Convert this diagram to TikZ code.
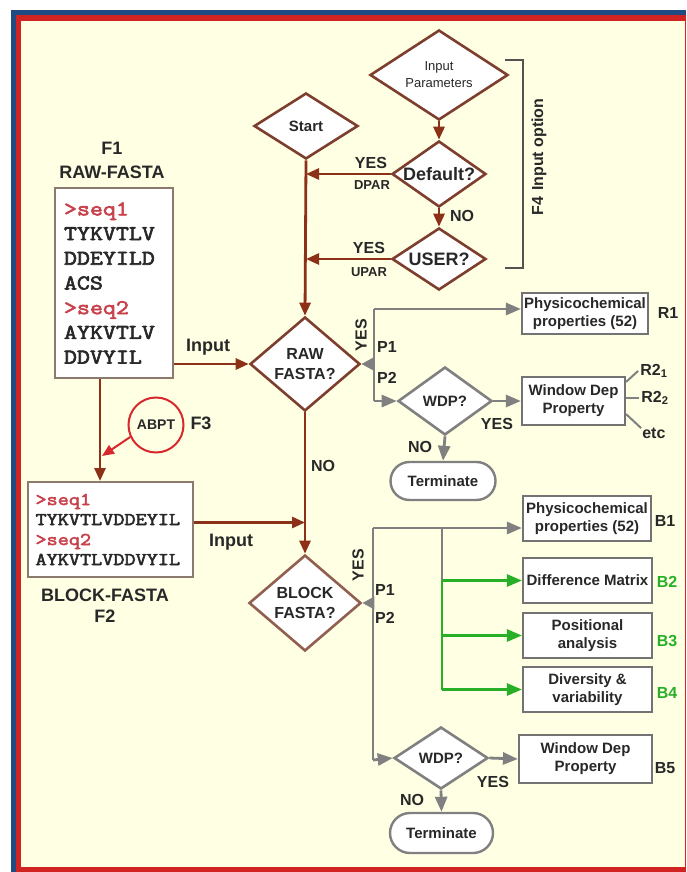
\documentclass[tikz,border=0pt]{standalone}
\usepackage{fontspec}
\setmainfont{Liberation Sans}
\newfontfamily\seqfont{Latin Modern Mono}[FakeStretch=1.2, FakeBold=3]
\usetikzlibrary{shapes.geometric,shapes.misc,arrows.meta}
\definecolor{fblue}{RGB}{30,75,130}
\definecolor{fred}{RGB}{210,35,35}
\definecolor{cream}{RGB}{255,255,228}
\definecolor{brn}{RGB}{140,48,24}
\definecolor{diab}{RGB}{125,62,45}
\definecolor{diabl}{RGB}{145,95,80}
\definecolor{gln}{RGB}{128,128,128}
\definecolor{grn}{RGB}{40,175,40}
\definecolor{seqred}{RGB}{200,65,75}
\definecolor{txt}{RGB}{40,40,40}
\definecolor{bxg}{RGB}{115,115,115}
\definecolor{fbox}{RGB}{140,122,110}
\definecolor{loopred}{RGB}{215,40,45}
\newcommand\fsz[2]{\fontsize{#1}{#2}\selectfont}
\tikzset{
  brnline/.style={draw=brn, line width=2.8pt},
  barrow/.style={brnline, -{Triangle[length=13pt,width=11pt]}},
  gline/.style={draw=gln, line width=2.8pt},
  garrow/.style={gline, -{Triangle[length=15pt,width=12pt]}},
  grarrow/.style={draw=grn, line width=2.8pt, -{Triangle[length=15pt,width=12pt]}},
  dia/.style={diamond, fill=white, inner sep=0pt, line width=2.6pt},
  bdia/.style={dia, draw=diab},
  gdia/.style={dia, draw=gln},
  dlab/.style={text=txt, align=center, inner sep=0pt},
  pbox/.style={rectangle, draw=bxg, line width=2.2pt, fill=white, inner sep=0pt, align=center, text=txt, font=\bfseries\fsz{15}{18}},
  term/.style={rounded rectangle, draw=gln, line width=2.4pt, fill=white, inner sep=0pt, text=txt, font=\bfseries\fsz{15}{18}},
  lbl/.style={text=txt, font=\bfseries\fsz{16}{19}, inner sep=0pt},
  slbl/.style={text=txt, font=\bfseries\fsz{13}{15}, inner sep=0pt},
  blbl/.style={text=txt, font=\bfseries\fsz{18}{20}, inner sep=0pt},
  glbl/.style={text=grn, font=\bfseries\fsz{16}{19}, inner sep=0pt},
}
\begin{document}
\begin{tikzpicture}[x=1pt,y=-1pt]
\useasboundingbox (0,0) rectangle (686,872);
\fill[white] (0,0) rectangle (686,872);
\fill[fblue] (11,10) rectangle (686,872);
\fill[fred] (16,15) rectangle (686,872);
\fill[cream] (21,21) rectangle (684.5,867);

% ---------- diamonds ----------
\node[bdia, minimum width=138pt, minimum height=90pt,
  label={[dlab, font=\fsz{13}{17}]center:{Input\\Parameters}}] (ip) at (439,75) {};
\node[bdia, minimum width=94pt, minimum height=66pt,
  label={[dlab, font=\bfseries\fsz{18}{20}]center:Default?}] (def) at (439,174) {};
\node[bdia, minimum width=94pt, minimum height=62pt,
  label={[dlab, font=\bfseries\fsz{18}{20}]center:USER?}] (usr) at (439,259) {};
\node[bdia, minimum width=104pt, minimum height=66pt,
  label={[dlab, font=\bfseries\fsz{15}{18}]center:Start}] (st) at (306,126) {};
\node[bdia, minimum width=110pt, minimum height=94pt,
  label={[dlab, font=\bfseries\fsz{16}{20}]center:{RAW\\FASTA?}}] (raw) at (305,364) {};
\node[bdia, draw=diabl, minimum width=112pt, minimum height=96pt,
  label={[dlab, font=\bfseries\fsz{16}{20}]center:{BLOCK\\FASTA?}}] (blk) at (305,603) {};
\node[gdia, minimum width=94pt, minimum height=68pt,
  label={[dlab, font=\bfseries\fsz{15}{18}]center:WDP?}] (wdp1) at (445,401) {};
\node[gdia, minimum width=94pt, minimum height=62pt,
  label={[dlab, font=\bfseries\fsz{15}{18}]center:WDP?}] (wdp2) at (441,758) {};

% ---------- boxes ----------
\node[pbox, minimum width=126pt, minimum height=41pt] (r1) at (585,313.5) {Physicochemical\\properties (52)};
\node[pbox, minimum width=103pt, minimum height=48pt] (wd1) at (573.5,401) {Window Dep\\Property};
\node[term, minimum width=105pt, minimum height=38pt] (t1) at (443,481) {Terminate};
\node[pbox, minimum width=128pt, minimum height=45pt] (b1) at (587,518.5) {Physicochemical\\properties (52)};
\node[pbox, minimum width=129pt, minimum height=45pt] (b2) at (587.5,580.5) {Difference Matrix};
\node[pbox, minimum width=129pt, minimum height=45pt] (b3) at (587.5,635.5) {Positional\\analysis};
\node[pbox, minimum width=129pt, minimum height=45pt] (b4) at (587.5,689.5) {Diversity \&\\variability};
\node[pbox, minimum width=133pt, minimum height=48pt] (b5) at (585.5,759) {Window Dep\\Property};
\node[term, minimum width=103pt, minimum height=40pt] (t2) at (441.5,833) {Terminate};

% ---------- FASTA boxes ----------
\node[draw=fbox, line width=2pt, fill=white, minimum width=118pt, minimum height=190pt,
  inner sep=0pt, text width=100pt, align=left, text=txt,
  font=\seqfont\fsz{21}{24.7}] (f1) at (114,283)
  {\textcolor{seqred}{>seq1}\\TYKVTLV\\DDEYILD\\ACS\\\textcolor{seqred}{>seq2}\\AYKVTLV\\DDVYIL};
\node[draw=fbox, line width=2pt, fill=white, minimum width=165pt, minimum height=95pt,
  inner sep=0pt, text width=150pt, align=left, text=txt,
  font=\seqfont\fsz{18}{20}] (f2) at (110.5,529.5)
  {\textcolor{seqred}{>seq1}\\TYKVTLVDDEYIL\\\textcolor{seqred}{>seq2}\\AYKVTLVDDVYIL};

\node[blbl] (f1a) at (112,148) {F1};
\node[blbl] (f1b) at (112,172) {RAW-FASTA};
\node[blbl] (f2a) at (105,595) {BLOCK-FASTA};
\node[blbl] (f2b) at (105,616) {F2};

% ---------- brown connectors ----------
\draw[barrow] (ip.south) -- (def.north);
\draw[barrow] (def.south) -- (usr.north);
\draw[barrow] (st.south) -- (raw.north);
\draw[barrow] (def.west) -- (def.west -| st.south);
\draw[barrow] (usr.west) -- (usr.west -| st.south);
\draw[barrow] (f1.east |- raw.west) -- (raw.west);
\draw[barrow] (raw.south) -- (blk.north);
\draw[barrow] ([yshift=7pt]f2.east) -- ([yshift=7pt]f2.east -| raw.south);
\draw[barrow] ([xshift=-14pt]f1.south) -- ([xshift=-14pt]f1.south |- f2.north);

% ---------- ABPT loop ----------
\node[circle, draw=loopred, line width=2pt, minimum size=55pt, inner sep=0pt,
  text=txt, font=\bfseries\fsz{14}{14}] (abpt) at (156,425) {ABPT};
\node[blbl] (f3) at (201,423) {F3};
\coordinate (abptend) at (102,456);
\draw[draw=loopred, line width=2pt, -{Triangle[length=12pt,width=10pt]}] (abpt.205) -- (abptend);

% ---------- bracket F4 ----------
\draw[draw=txt!80, line width=1.5pt] (505,60) -- (523,60) -- (523,268) -- (505,268);
\node[lbl, rotate=90] (f4) at (539,157) {F4\hspace{6pt}Input option};

% ---------- brown labels ----------
\node[lbl] (y1) at (371,163) {YES};
\node[slbl] (dpar) at (372,185) {DPAR};
\node[lbl] (y2) at (369,248) {YES};
\node[slbl] (upar) at (369,272) {UPAR};
\node[lbl] (n1) at (462,216) {NO};
\node[blbl] (in1) at (208,347) {Input};
\node[lbl] (n2) at (323,466) {NO};
\node[blbl] (in2) at (231,542) {Input};

% ---------- RAW branch (gray) ----------
\coordinate (rtop) at (374,309);
\coordinate (rbot) at (374,401);
\draw[gline] (rtop) -- (rbot);
\draw[gline, -{Triangle[length=12pt,width=12pt]}] (raw.east -| rtop) -- (raw.east);
\draw[garrow] (rtop) -- (rtop -| r1.west);
\draw[garrow] (rbot) -- (wdp1.west);
\draw[garrow] (wdp1.east) -- (wd1.west);
\draw[garrow] (wdp1.south) -- (t1.north);
\draw[draw=gln, line width=2pt] ([yshift=-6pt]wd1.north east) -- ++(12,-11) coordinate (r21);
\draw[draw=gln, line width=2pt] ([yshift=3pt]wd1.east) -- ++(13,0) coordinate (r22);
\draw[draw=gln, line width=2pt] ([yshift=12pt]wd1.south east) -- ++(15,14) coordinate (r23);
\node[lbl, anchor=west] (lr21) at ([xshift=2pt]r21) {R2\textsubscript{1}};
\node[lbl, anchor=west] (lr22) at ([xshift=2pt]r22) {R2\textsubscript{2}};
\node[lbl, anchor=north west] (lr23) at ([xshift=1pt]r23) {etc};
\node[lbl, rotate=90] (y3) at (361,335) {YES};
\node[lbl] (p1) at (387,347) {P1};
\node[lbl] (p2) at (387,378) {P2};
\node[lbl] (y4) at (497,424) {YES};
\node[lbl] (n3) at (420,447) {NO};
\node[lbl] (lr1) at (668,313) {R1};

% ---------- BLOCK branch ----------
\coordinate (btop) at (373,528);
\coordinate (bbot) at (373,760);
\coordinate (bsp) at (442,528);
\draw[gline] (btop) -- (bbot);
\draw[gline, -{Triangle[length=12pt,width=12pt]}] (blk.east -| btop) -- (blk.east);
\draw[garrow] (btop) -- (btop -| b1.west);
\draw[gline] (bsp) -- (bsp |- b2.west);
\draw[draw=grn, line width=2.8pt] (bsp |- b2.west) -- (bsp |- b4.west);
\draw[grarrow] (bsp |- b2.west) -- (b2.west);
\draw[grarrow] (bsp |- b3.west) -- (b3.west);
\draw[grarrow] (bsp |- b4.west) -- (b4.west);
\draw[garrow] (bbot) -- (wdp2.west);
\draw[garrow] (wdp2.east) -- (b5.west);
\draw[garrow] (wdp2.south) -- (t2.north);
\node[lbl, rotate=90] (y5) at (358,565) {YES};
\node[lbl] (p3) at (385,590) {P1};
\node[lbl] (p4) at (385,618) {P2};
\node[lbl] (y6) at (493,782) {YES};
\node[lbl] (n4) at (412,800) {NO};
\node[lbl] (lb1) at (665,521) {B1};
\node[glbl] (lb2) at (667,582) {B2};
\node[glbl] (lb3) at (667,641) {B3};
\node[glbl] (lb4) at (667,693) {B4};
\node[lbl] (lb5) at (665,768) {B5};
\end{tikzpicture}
\end{document}
